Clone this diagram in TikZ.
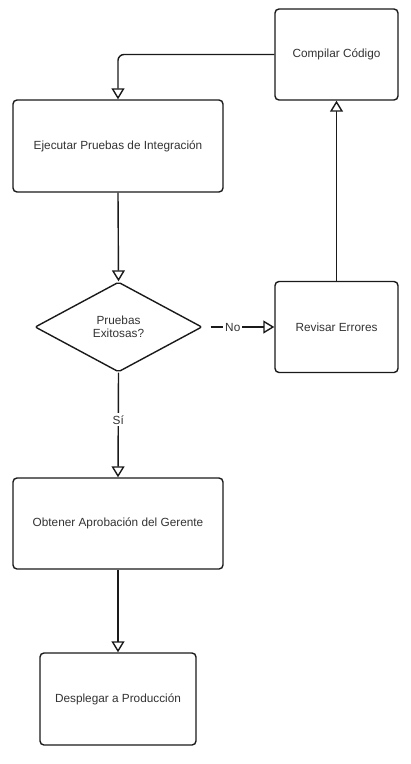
\documentclass[tikz,border=0pt]{standalone}
\usepackage{fontspec}
\setmainfont{Liberation Sans}
\usetikzlibrary{shapes.geometric,arrows.meta}
\definecolor{txt}{HTML}{333333}
\definecolor{ln}{HTML}{1A1A1A}
\begin{document}
\begin{tikzpicture}[x=1pt,y=-1pt,
  box/.style={draw=ln,line width=1.4pt,rounded corners=4pt,fill=white,inner sep=0pt,
    font=\fontsize{11.8}{13.5}\selectfont,text=txt,align=center},
  dec/.style={draw=ln,line width=1.4pt,diamond,aspect=1.85,inner sep=0pt,rounded corners=2pt,
    font=\fontsize{11.8}{13}\selectfont,text=txt,align=center},
  conn/.style={draw=ln,line width=1.4pt,-{Triangle[open,length=11pt,width=13pt,fill=white]}},
  lbl/.style={fill=white,font=\fontsize{11.8}{13.5}\selectfont,text=txt,inner sep=2pt}]
\useasboundingbox (0,0) rectangle (411,764);
\node[box,minimum width=123pt,minimum height=91pt] (comp) at (336.5,54.5) {Compilar Código};
\node[box,minimum width=210pt,minimum height=92pt] (ejec) at (118,146) {Ejecutar Pruebas de Integración};
\node[dec,minimum width=167pt,minimum height=90pt] (dec) at (118.5,327) {Pruebas\\Exitosas?};
\node[box,minimum width=123pt,minimum height=91pt] (rev) at (336.5,327) {Revisar Errores};
\node[box,minimum width=210pt,minimum height=91pt] (obt) at (118,523.5) {Obtener Aprobación del Gerente};
\node[box,minimum width=156pt,minimum height=92pt] (desp) at (118,699) {Desplegar a Producción};
\draw[conn,rounded corners=6pt] (comp.west) -| (ejec.north);
\draw[conn] (ejec.south) -- (dec.north);
\draw[conn,shorten <=8pt] (dec.east) -- node[lbl,pos=0.42] {No} (rev.west);
\draw[conn] (rev.north) -- (comp.south);
\draw[conn] (dec.south) -- node[lbl,pos=0.45] {Sí} (obt.north);
\draw[conn] (obt.south) -- (desp.north);
\end{tikzpicture}
\end{document}
